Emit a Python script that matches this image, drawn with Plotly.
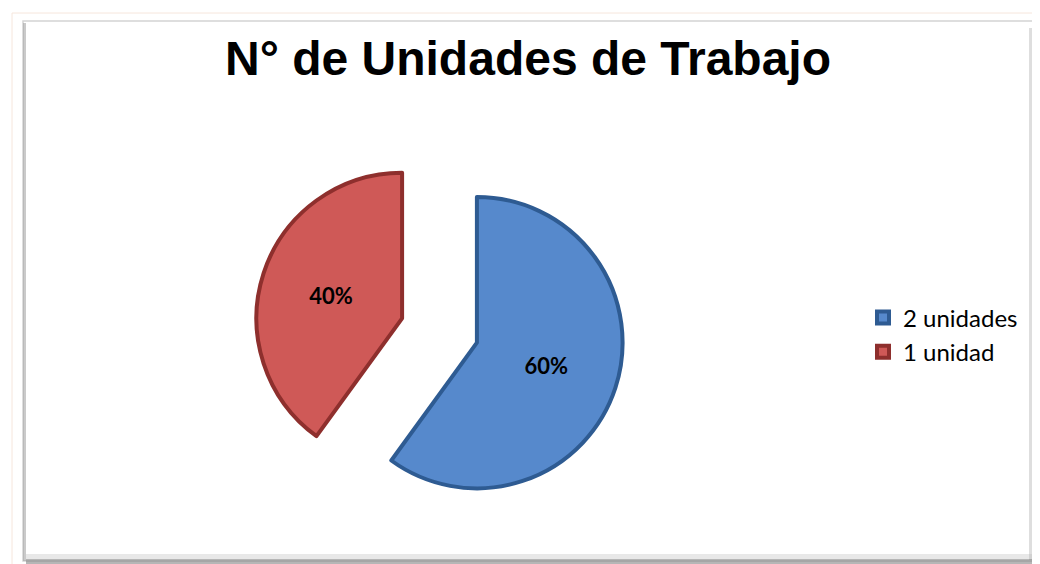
import plotly.graph_objects as go

labels = ["2 unidades", "1 unidad"]
values = [60, 40]
colors = ["#5689CC", "#CF5957"]
edge_colors = ["#2E5B92", "#8E2F2D"]
title_text = "N° de Unidades de Trabajo"

W, H = 1040, 564
# pie domain in pixels (square), converted to paper fractions
cx, cy, half = 431.5, 322.5, 185
dom_x = [(cx - half) / W, (cx + half) / W]
dom_y = [(H - (cy + half)) / H, (H - (cy - half)) / H]

fig = go.Figure()
fig.add_trace(go.Pie(
    labels=labels,
    values=values,
    sort=False,
    direction="clockwise",
    rotation=0,
    pull=[0.27, 0.27],
    marker=dict(colors=colors, line=dict(color=edge_colors, width=4)),
    texttemplate="%{percent:.0%}",
    textposition="inside",
    insidetextorientation="horizontal",
    textfont=dict(family="Lato", size=22, color="black", weight="bold"),
    hoverinfo="label+percent",
    domain=dict(x=dom_x, y=dom_y),
))

shapes = [
    # outer faint frame
    dict(type="rect", xref="paper", yref="paper", x0=4 / W, x1=1036 / W, y0=1 - 560 / H, y1=1 - 5 / H,
         line=dict(color="#F6E6DC", width=1), layer="below"),
    # inner chart border
    dict(type="rect", xref="paper", yref="paper", x0=15 / W, x1=1030 / W, y0=1 - 553 / H, y1=1 - 13 / H,
         line=dict(color="#D4D4D4", width=1.5), layer="below"),
    # right shadow
    dict(type="rect", xref="paper", yref="paper", x0=1027 / W, x1=1033 / W, y0=1 - 556 / H, y1=1 - 20 / H,
         line=dict(width=0), fillcolor="rgba(80,80,80,0.6)", layer="below"),
    dict(type="rect", xref="paper", yref="paper", x0=1021 / W, x1=1027 / W, y0=1 - 552 / H, y1=1 - 20 / H,
         line=dict(width=0), fillcolor="rgba(160,160,160,0.35)", layer="below"),
    # bottom shadow
    dict(type="rect", xref="paper", yref="paper", x0=18 / W, x1=1033 / W, y0=1 - 557 / H, y1=1 - 551 / H,
         line=dict(width=0), fillcolor="rgba(110,110,110,0.5)", layer="below"),
    dict(type="rect", xref="paper", yref="paper", x0=18 / W, x1=1027 / W, y0=1 - 551 / H, y1=1 - 546 / H,
         line=dict(width=0), fillcolor="rgba(180,180,180,0.3)", layer="below"),
    # left shadow
    dict(type="rect", xref="paper", yref="paper", x0=15 / W, x1=18 / W, y0=1 - 553 / H, y1=1 - 15 / H,
         line=dict(width=0), fillcolor="rgba(150,150,150,0.5)", layer="below"),
]

fig.update_layout(
    width=W, height=H,
    margin=dict(l=0, r=0, t=0, b=0),
    paper_bgcolor="white",
    plot_bgcolor="white",
    title=dict(text=title_text, x=0.5, xanchor="center", y=1 - 50 / H, yanchor="middle",
               font=dict(family="Liberation Sans", size=48, color="black", weight="bold")),
    legend=dict(x=855 / W, xanchor="left", y=1 - 327 / H, yanchor="middle",
                font=dict(family="Lato", size=24, color="black"),
                itemwidth=30, tracegroupgap=0, bgcolor="rgba(0,0,0,0)"),
    shapes=shapes,
    showlegend=True,
)

fig.write_html("out.html")
